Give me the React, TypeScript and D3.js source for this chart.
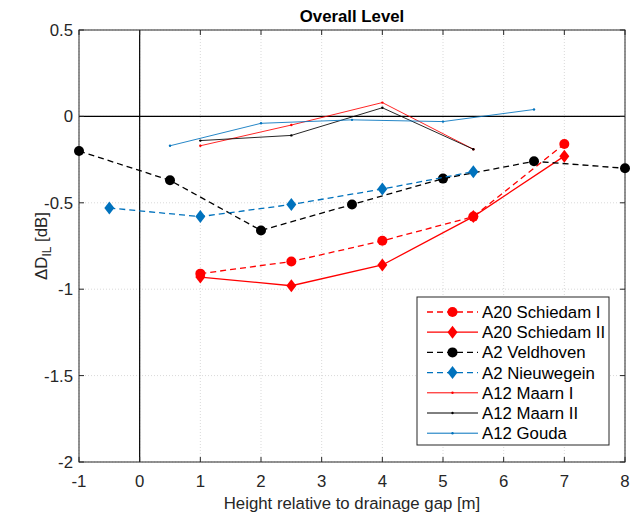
import React from "react";
import * as d3 from "d3";

const schiedamIX = [1, 2.5, 4, 5.5, 7];
const schiedamIY = [-0.91, -0.84, -0.72, -0.58, -0.16];
const schiedamIIX = [1, 2.5, 4, 5.5, 7];
const schiedamIIY = [-0.93, -0.98, -0.86, -0.58, -0.23];
const veldhovenX = [-1, 0.5, 2, 3.5, 5, 6.5, 8];
const veldhovenY = [-0.2, -0.37, -0.66, -0.51, -0.36, -0.26, -0.3];
const nieuwegeinX = [-0.5, 1, 2.5, 4, 5.5];
const nieuwegeinY = [-0.53, -0.58, -0.51, -0.42, -0.32];
const maarnIX = [1, 2.5, 4, 5.5];
const maarnIY = [-0.17, -0.05, 0.08, -0.19];
const maarnIIX = [1, 2.5, 4, 5.5];
const maarnIIY = [-0.14, -0.11, 0.05, -0.19];
const goudaX = [0.5, 2, 3.5, 5, 6.5];
const goudaY = [-0.17, -0.04, -0.02, -0.03, 0.04];

const xTicks = [-1, 0, 1, 2, 3, 4, 5, 6, 7, 8];
const yTicks = [0.5, 0, -0.5, -1, -1.5, -2];

type Series = {
  name: string;
  xs: number[];
  ys: number[];
  color: string;
  dash: string | null;
  marker: "circle" | "diamond" | "dot";
  width: number;
};

const series: Series[] = [
  { name: "A20 Schiedam I", xs: schiedamIX, ys: schiedamIY, color: "#ff0000", dash: "6,4", marker: "circle", width: 1.3 },
  { name: "A20 Schiedam II", xs: schiedamIIX, ys: schiedamIIY, color: "#ff0000", dash: null, marker: "diamond", width: 1.3 },
  { name: "A2 Veldhoven", xs: veldhovenX, ys: veldhovenY, color: "#000000", dash: "6,4", marker: "circle", width: 1.3 },
  { name: "A2 Nieuwegein", xs: nieuwegeinX, ys: nieuwegeinY, color: "#0072bd", dash: "6,4", marker: "diamond", width: 1.3 },
  { name: "A12 Maarn I", xs: maarnIX, ys: maarnIY, color: "#ff0000", dash: null, marker: "dot", width: 1 },
  { name: "A12 Maarn II", xs: maarnIIX, ys: maarnIIY, color: "#000000", dash: null, marker: "dot", width: 1 },
  { name: "A12 Gouda", xs: goudaX, ys: goudaY, color: "#0072bd", dash: null, marker: "dot", width: 1 },
];

const W = 638;
const H = 513;
const m = { left: 79, right: 625, top: 30, bottom: 462 };
const font = "'Liberation Sans', Arial, sans-serif";
const fs = 16.8;

const Marker = ({ type, x, y, color }: { type: string; x: number; y: number; color: string }) => {
  if (type === "circle") return <circle cx={x} cy={y} r={5} fill={color} />;
  if (type === "diamond")
    return <path d={`M${x},${y - 6.5} L${x + 5},${y} L${x},${y + 6.5} L${x - 5},${y} Z`} fill={color} />;
  return <circle cx={x} cy={y} r={1.2} fill={color} />;
};

export default function App() {
  const x = d3.scaleLinear().domain([-1, 8]).range([m.left, m.right]);
  const y = d3.scaleLinear().domain([-2, 0.5]).range([m.bottom, m.top]);
  const line = d3
    .line<[number, number]>()
    .x((d) => x(d[0]))
    .y((d) => y(d[1]));

  const legX = 417;
  const legY = 297;
  const legW = 192;
  const legH = 148;
  const rowH = 20.2;

  return (
    <svg width={W} height={H} style={{ position: "absolute", left: 0, top: 0, background: "#fff" }} fontFamily={font}>
      <rect x={0} y={0} width={W} height={H} fill="#fff" />
      {/* grid */}
      {xTicks.map((t) => (
        <line key={"gx" + t} x1={x(t)} x2={x(t)} y1={m.top} y2={m.bottom} stroke="#d9d9d9" strokeDasharray="1,2" />
      ))}
      {yTicks.map((t) => (
        <line key={"gy" + t} x1={m.left} x2={m.right} y1={y(t)} y2={y(t)} stroke="#d9d9d9" strokeDasharray="1,2" />
      ))}
      {/* zero lines */}
      <line x1={x(0)} x2={x(0)} y1={m.top} y2={m.bottom} stroke="#000" strokeWidth={1.2} />
      <line x1={m.left} x2={m.right} y1={y(0)} y2={y(0)} stroke="#000" strokeWidth={1.2} />
      {/* axes box */}
      <rect x={m.left} y={m.top} width={m.right - m.left} height={m.bottom - m.top} fill="none" stroke="#262626" strokeWidth={1} />
      {xTicks.map((t) => (
        <g key={"tx" + t}>
          <line x1={x(t)} x2={x(t)} y1={m.bottom} y2={m.bottom - 5} stroke="#262626" />
          <line x1={x(t)} x2={x(t)} y1={m.top} y2={m.top + 5} stroke="#262626" />
          <text x={x(t)} y={487} textAnchor="middle" fontSize={fs} fill="#262626">
            {t}
          </text>
        </g>
      ))}
      {yTicks.map((t) => (
        <g key={"ty" + t}>
          <line x1={m.left} x2={m.left + 5} y1={y(t)} y2={y(t)} stroke="#262626" />
          <line x1={m.right} x2={m.right - 5} y1={y(t)} y2={y(t)} stroke="#262626" />
          <text x={73} y={y(t) + 6} textAnchor="end" fontSize={fs} fill="#262626">
            {t}
          </text>
        </g>
      ))}
      {/* series */}
      {series.map((s) => {
        const pts = s.xs.map((v, i) => [v, s.ys[i]] as [number, number]);
        return (
          <g key={s.name}>
            <path
              d={line(pts) || ""}
              fill="none"
              stroke={s.color}
              strokeWidth={s.width}
              strokeDasharray={s.dash || undefined}
              opacity={s.marker === "dot" ? 0.85 : 1}
            />
            {pts.map((p, i) => (
              <Marker key={i} type={s.marker} x={x(p[0])} y={y(p[1])} color={s.color} />
            ))}
          </g>
        );
      })}
      {/* title and labels */}
      <text x={(m.left + m.right) / 2} y={22} textAnchor="middle" fontSize={fs} fontWeight="bold" fill="#000">
        Overall Level
      </text>
      <text x={(m.left + m.right) / 2} y={509} textAnchor="middle" fontSize={fs} fill="#262626">
        Height relative to drainage gap [m]
      </text>
      <text transform={`translate(47,${(m.top + m.bottom) / 2}) rotate(-90)`} textAnchor="middle" fontSize={fs} fill="#262626">
        ΔD
        <tspan fontSize={12} dy={4}>IL</tspan>
        <tspan dy={-4}> [dB]</tspan>
      </text>
      {/* legend */}
      <rect x={legX} y={legY} width={legW} height={legH} fill="#fff" stroke="#262626" strokeWidth={1} />
      {series.map((s, i) => {
        const cy = legY + 15 + i * rowH;
        return (
          <g key={"leg" + s.name}>
            <line
              x1={legX + 10}
              x2={legX + 61}
              y1={cy}
              y2={cy}
              stroke={s.color}
              strokeWidth={s.width}
              strokeDasharray={s.dash || undefined}
            />
            <Marker type={s.marker} x={legX + 35.5} y={cy} color={s.color} />
            <text x={legX + 65} y={cy + 6} fontSize={fs} fill="#000">
              {s.name}
            </text>
          </g>
        );
      })}
    </svg>
  );
}
